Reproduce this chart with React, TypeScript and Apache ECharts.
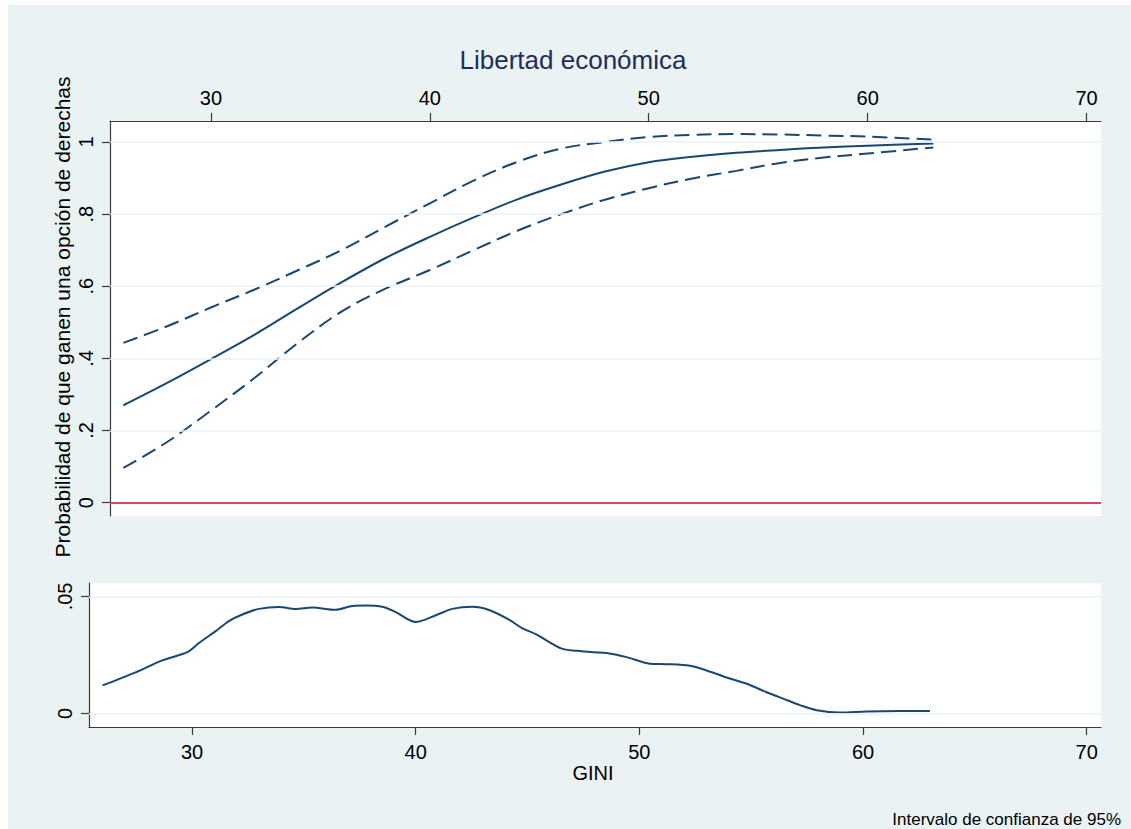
import React, { useEffect, useRef } from "react";
import * as echarts from "echarts";

// ---- data ----
const giniTop = [26, 28, 30, 32, 34, 36, 38, 40, 42, 44, 46, 48, 50, 52, 54, 56, 58, 60, 63];
const probCentral = [0.27, 0.332, 0.398, 0.466, 0.54, 0.612, 0.679, 0.737, 0.791, 0.841, 0.882, 0.918, 0.944, 0.959, 0.97, 0.978, 0.985, 0.99, 0.996];
const probUpper = [0.443, 0.489, 0.541, 0.591, 0.645, 0.701, 0.766, 0.83, 0.893, 0.945, 0.982, 1.0, 1.014, 1.02, 1.022, 1.021, 1.018, 1.015, 1.007];
const probLower = [0.096, 0.168, 0.255, 0.346, 0.444, 0.531, 0.594, 0.645, 0.7, 0.754, 0.8, 0.84, 0.872, 0.899, 0.92, 0.942, 0.957, 0.968, 0.985];

const giniDensityX = [26.0, 27.48, 28.67, 29.79, 30.31, 31.06, 31.65, 32.25, 33.0, 33.89, 34.64, 35.38, 36.42, 37.17, 37.76, 38.51, 39.11, 40.0, 40.9, 41.64, 42.53, 43.28, 44.17, 44.74, 45.41, 46.53, 47.2, 47.94, 48.54, 49.43, 50.47, 51.22, 52.26, 53.01, 53.9, 54.8, 55.69, 56.58, 57.18, 57.93, 58.97, 60.16, 61.65, 62.99];
const densityValues = [0.012, 0.0176, 0.0227, 0.0262, 0.0301, 0.0352, 0.0395, 0.0423, 0.0447, 0.0455, 0.0446, 0.0453, 0.0443, 0.0459, 0.0461, 0.0456, 0.0433, 0.0391, 0.042, 0.0447, 0.0456, 0.0442, 0.0401, 0.0366, 0.0337, 0.0277, 0.0268, 0.0262, 0.0259, 0.0241, 0.0213, 0.0211, 0.0204, 0.0184, 0.0154, 0.0127, 0.0091, 0.0058, 0.0036, 0.0014, 0.0004, 0.0009, 0.0011, 0.0011];

const xTicks = [30, 40, 50, 60, 70];
const yTicksTop = [0, 0.2, 0.4, 0.6, 0.8, 1];
const yTickLabelsTop = ["0", ".2", ".4", ".6", ".8", "1"];
const yTicksBottom = [0, 0.05];
const yTickLabelsBottom = ["0", ".05"];

const titleText = "Libertad económica";
const yTitleText = "Probabilidad de que ganen una opción de derechas";
const xTitleText = "GINI";
const noteText = "Intervalo de confianza de 95%";

// ---- styles ----
const OX = 8;
const OY = 5;
const W = 1131 - OX;
const H = 829 - OY;
const BG = "#eaf2f3";
const LINE = "#1a476f";
const AX = "#3a3a3a";
const FONT = "'Liberation Sans', Arial, Helvetica, sans-serif";

const pair = (xs: number[], ys: number[]) => xs.map((x, i) => [x, ys[i]]);
const fmt = (ticks: number[], labels: string[]) => (v: number) => {
  const i = ticks.findIndex((t) => Math.abs(t - v) < 1e-9);
  return i >= 0 ? labels[i] : "";
};

export default function App() {
  const ref = useRef<HTMLDivElement>(null);
  useEffect(() => {
    if (!ref.current) return;
    const chart = echarts.init(ref.current, null, { renderer: "svg" });
    const axisLine = { show: true, onZero: false, lineStyle: { color: AX, width: 1.2 } };
    const tick = (vals: number[]) => ({ show: true, length: 8, customValues: vals, lineStyle: { color: AX, width: 1.2 } });
    const label = (vals: number[], extra: any = {}) => ({
      customValues: vals,
      fontSize: 20,
      color: "#000",
      fontFamily: FONT,
      ...extra,
    });
    const grid0 = { left: 110 - OX, top: 121 - OY, width: 991, height: 395 };
    const grid1 = { left: 89 - OX, top: 583 - OY, width: 1012, height: 144 };
    const gridLines = (xi: number, ticks: number[]) => ({
      type: "line",
      xAxisIndex: xi,
      yAxisIndex: xi,
      data: [],
      z: 1,
      silent: true,
      markLine: {
        silent: true,
        symbol: ["none", "none"],
        label: { show: false },
        lineStyle: { color: BG, width: 1.6, type: "solid" },
        data: ticks.map((v) => ({ yAxis: v })),
      },
    });
    const option: any = {
      animation: false,
      backgroundColor: BG,
      grid: [
        { ...grid0, show: true, backgroundColor: "#fff", borderWidth: 0 },
        { ...grid1, show: true, backgroundColor: "#fff", borderWidth: 0 },
      ],
      xAxis: [
        {
          type: "value",
          gridIndex: 0,
          position: "top",
          min: 25.39,
          max: 70.66,
          axisLine,
          axisTick: tick(xTicks),
          axisLabel: label(xTicks, { margin: 13 }),
          splitLine: { show: false },
        },
        {
          type: "value",
          gridIndex: 1,
          position: "bottom",
          min: 25.395,
          max: 70.64,
          axisLine,
          axisTick: tick(xTicks),
          axisLabel: label(xTicks, { margin: 15 }),
          splitLine: { show: false },
        },
      ],
      yAxis: [
        {
          type: "value",
          gridIndex: 0,
          min: -0.0372,
          max: 1.0583,
          axisLine,
          axisTick: tick(yTicksTop),
          axisLabel: label(yTicksTop, { rotate: 90, margin: 14, formatter: fmt(yTicksTop, yTickLabelsTop) }),
          splitLine: { show: false },
        },
        {
          type: "value",
          gridIndex: 1,
          min: -0.00575,
          max: 0.05575,
          axisLine,
          axisTick: tick(yTicksBottom),
          axisLabel: label(yTicksBottom, { rotate: 90, margin: 14, formatter: fmt(yTicksBottom, yTickLabelsBottom) }),
          splitLine: { show: false },
        },
      ],
      series: [
        gridLines(0, yTicksTop),
        gridLines(1, yTicksBottom),
        {
          type: "line",
          xAxisIndex: 0,
          yAxisIndex: 0,
          data: [],
          z: 2,
          silent: true,
          markLine: {
            silent: true,
            symbol: ["none", "none"],
            label: { show: false },
            lineStyle: { color: "#c8102e", width: 1.6, type: "solid" },
            data: [{ yAxis: 0 }],
          },
        },
        {
          name: "central",
          type: "line",
          xAxisIndex: 0,
          yAxisIndex: 0,
          data: pair(giniTop, probCentral),
          smooth: 0.35,
          showSymbol: false,
          z: 3,
          lineStyle: { color: LINE, width: 2 },
        },
        {
          name: "upper",
          type: "line",
          xAxisIndex: 0,
          yAxisIndex: 0,
          data: pair(giniTop, probUpper),
          smooth: 0.35,
          showSymbol: false,
          z: 3,
          lineStyle: { color: LINE, width: 2, type: [15, 7] },
        },
        {
          name: "lower",
          type: "line",
          xAxisIndex: 0,
          yAxisIndex: 0,
          data: pair(giniTop, probLower),
          smooth: 0.35,
          showSymbol: false,
          z: 3,
          lineStyle: { color: LINE, width: 2, type: [15, 7] },
        },
        {
          name: "density",
          type: "line",
          xAxisIndex: 1,
          yAxisIndex: 1,
          data: pair(giniDensityX, densityValues),
          smooth: 0.3,
          showSymbol: false,
          z: 3,
          lineStyle: { color: LINE, width: 2 },
        },
      ],
      graphic: [
        {
          type: "text",
          x: 573 - OX,
          y: 60 - OY,
          style: { text: titleText, fontSize: 26, fontFamily: FONT, fill: "#1f2d5c", align: "center", verticalAlign: "middle" },
        },
        {
          type: "text",
          x: 62 - OX,
          y: 317 - OY,
          rotation: Math.PI / 2,
          style: { text: yTitleText, fontSize: 21, fontFamily: FONT, fill: "#000", align: "center", verticalAlign: "middle" },
        },
        {
          type: "text",
          x: 593 - OX,
          y: 773 - OY,
          style: { text: xTitleText, fontSize: 20, fontFamily: FONT, fill: "#000", align: "center", verticalAlign: "middle" },
        },
        {
          type: "text",
          x: 1121 - OX,
          y: 819 - OY,
          style: { text: noteText, fontSize: 17, fontFamily: FONT, fill: "#000", align: "right", verticalAlign: "middle" },
        },
      ],
    };
    chart.setOption(option);
    return () => chart.dispose();
  }, []);
  return (
    <div
      ref={ref}
      style={{ position: "absolute", left: OX, top: OY, width: W, height: H }}
    />
  );
}
